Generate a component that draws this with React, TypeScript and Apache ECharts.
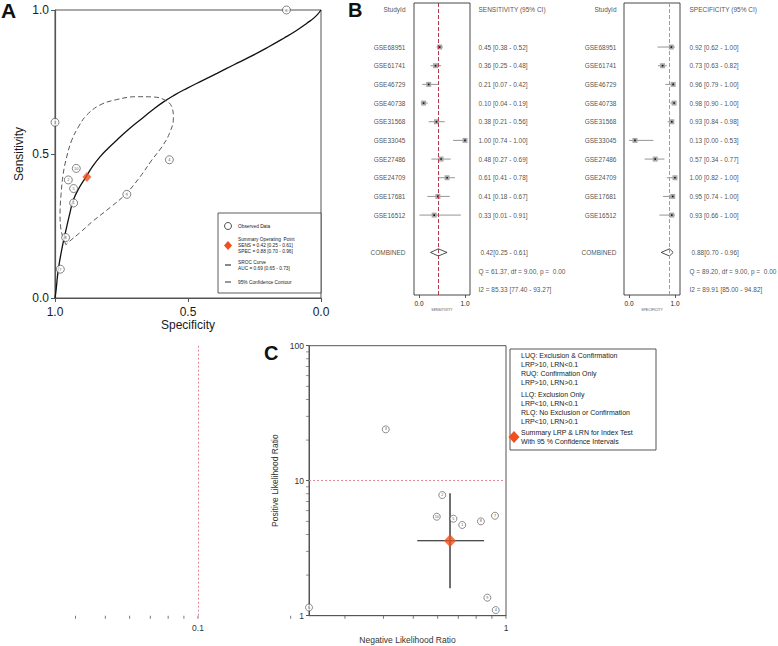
import React, { useEffect, useRef } from "react";
import * as echarts from "echarts";

// ---------------- data ----------------
const studies = ["GSE68951", "GSE61741", "GSE46729", "GSE40738", "GSE31568", "GSE33045", "GSE27486", "GSE24709", "GSE17681", "GSE16512"];
const sens = [0.45, 0.36, 0.21, 0.1, 0.38, 1.0, 0.48, 0.61, 0.41, 0.33];
const sensLo = [0.38, 0.25, 0.07, 0.04, 0.21, 0.74, 0.27, 0.41, 0.18, 0.01];
const sensHi = [0.52, 0.48, 0.42, 0.19, 0.56, 1.0, 0.69, 0.78, 0.67, 0.91];
const spec = [0.92, 0.73, 0.96, 0.98, 0.93, 0.13, 0.57, 1.0, 0.95, 0.93];
const specLo = [0.62, 0.63, 0.79, 0.9, 0.84, 0.0, 0.34, 0.82, 0.74, 0.66];
const specHi = [1.0, 0.82, 1.0, 1.0, 0.98, 0.53, 0.77, 1.0, 1.0, 1.0];
const plotLabels = ["10", "9", "8", "7", "5", "6", "4", "3", "2", "1"];

const summarySens = [0.42, 0.25, 0.61];
const summarySpec = [0.88, 0.7, 0.96];
const aucVals = [0.69, 0.65, 0.73];
const sensQ = [61.37, 9.0, 0.0];
const sensI2 = [85.33, 77.4, 93.27];
const specQ = [89.2, 9.0, 0.0];
const specI2 = [89.91, 85.0, 94.82];

// SROC curve (specificity, sensitivity)
const srocSpec = [1.0, 0.995, 0.991, 0.984, 0.975, 0.966, 0.956, 0.944, 0.931, 0.91, 0.885, 0.86, 0.831, 0.8, 0.768, 0.725, 0.68, 0.636, 0.592, 0.548, 0.504, 0.448, 0.391, 0.329, 0.266, 0.203, 0.14, 0.095, 0.053, 0.021, 0.0];
const srocSens = [0.0, 0.035, 0.073, 0.12, 0.166, 0.207, 0.247, 0.295, 0.34, 0.381, 0.418, 0.455, 0.49, 0.52, 0.548, 0.584, 0.618, 0.651, 0.681, 0.706, 0.728, 0.754, 0.78, 0.809, 0.838, 0.869, 0.902, 0.927, 0.954, 0.977, 1.0];

// 95% confidence contour (specificity, sensitivity)
const contourSpec = [0.959, 0.977, 0.981, 0.977, 0.969, 0.956, 0.937, 0.912, 0.881, 0.831, 0.768, 0.693, 0.63, 0.586, 0.561, 0.555, 0.57, 0.598, 0.636, 0.68, 0.735, 0.793, 0.856, 0.906, 0.944, 0.959];
const contourSens = [0.185, 0.235, 0.293, 0.363, 0.432, 0.49, 0.548, 0.594, 0.635, 0.67, 0.689, 0.699, 0.698, 0.687, 0.664, 0.623, 0.571, 0.525, 0.479, 0.421, 0.36, 0.314, 0.268, 0.227, 0.198, 0.185];

// Likelihood ratio scattergram
const lrn = [0.596, 0.87, 0.829, 0.921, 0.675, 0.0, 0.926, 0.407, 0.621, 0.721];
const lrp = [5.41, 1.36, 5.0, 5.5, 5.23, 1.15, 1.1, 24.0, 7.83, 4.7];
const summaryLRN = [0.658, 0.515, 0.849];
const summaryLRP = [3.59, 1.6, 8.07];
const lrpTicksMinor = [2, 3, 4, 5, 6, 7, 8, 9, 20, 30, 40, 50, 60, 70, 80, 90];
const lrnTicks = [0.04, 0.05, 0.06, 0.07, 0.08, 0.09, 0.1, 0.2, 0.3, 0.4, 0.5, 0.6, 0.7, 0.8, 0.9, 1];
const forestTicks = [0, 1];

const legendCLines = [
  "LUQ: Exclusion & Confirmation",
  "LRP>10, LRN<0.1",
  "RUQ: Confirmation Only",
  "LRP>10, LRN>0.1",
  "LLQ: Exclusion Only",
  "LRP<10, LRN<0.1",
  "RLQ: No Exclusion or Confirmation",
  "LRP<10, LRN>0.1",
  "Summary LRP & LRN for Index Test",
  "With 95 % Confidence Intervals",
];

// ---------------- layout ----------------
const FONT = '"Liberation Sans", Arial, Helvetica, sans-serif';
const ORANGE = "#f0501e";
const TXT = "#1a1a1a";
const F_MIN = -0.1087;
const F_MAX = 1.1087;
const ROW_MIN = -0.359;
const ROW_MAX = 15.28;
const FIRST_ROW = 2;
const COMB_ROW = 13;

const C_LEFT = 309;
const C_RIGHT = 506;
const C_TOP = 345.7;
const C_H = 270;
const DECADE = 308;
const C_MIN_LRN = Math.pow(10, -(C_RIGHT - C_LEFT) / DECADE);
const EXT_MIN = 0.04;
const EXT_LEFT = C_RIGHT - DECADE * Math.log10(1 / EXT_MIN);

const f2 = (v: number) => v.toFixed(2);

function forestSeries(
  gi: number,
  est: number[],
  lo: number[],
  hi: number[],
  comb: number[],
  header: string,
  q: number[],
  i2: number[],
  refColor: string,
  gapL: number,
  gapR: number,
  gapC: number
) {
  const labelBase = { show: true, fontSize: 6.5, color: TXT, fontFamily: FONT, textBorderWidth: 0 };
  const hidden = { color: "rgba(0,0,0,0)" };
  const leftTexts = [{ value: [F_MIN, 0], txt: "StudyId" }]
    .concat(studies.map((s, i) => ({ value: [F_MIN, FIRST_ROW + i], txt: s })))
    .concat([{ value: [F_MIN, COMB_ROW], txt: "COMBINED" }]);
  const rightTexts = [{ value: [F_MAX, 0], txt: header }]
    .concat(est.map((e, i) => ({ value: [F_MAX, FIRST_ROW + i], txt: `${f2(e)} [${f2(lo[i])} - ${f2(hi[i])}]` })))
    .concat([
      { value: [F_MAX, COMB_ROW + 1], txt: `Q = ${f2(q[0])}, df = ${f2(q[1])}, p =  ${f2(q[2])}` },
      { value: [F_MAX, COMB_ROW + 2], txt: `I2 = ${f2(i2[0])} [${f2(i2[1])} - ${f2(i2[2])}]` },
    ]);
  return [
    {
      type: "custom",
      xAxisIndex: gi,
      yAxisIndex: gi,
      clip: false,
      silent: true,
      z: 4,
      encode: { x: [0, 1, 2], y: 3 },
      data: est.map((e, i) => [e, lo[i], hi[i], FIRST_ROW + i]),
      renderItem: (params: any, api: any) => {
        const row = api.value(3);
        const p = api.coord([api.value(0), row]);
        const a = api.coord([api.value(1), row]);
        const b = api.coord([api.value(2), row]);
        return {
          type: "group",
          children: [
            { type: "line", shape: { x1: a[0], y1: a[1], x2: b[0], y2: b[1] }, style: { stroke: "#7a7a7a", lineWidth: 0.8 } },
            { type: "rect", shape: { x: p[0] - 2.5, y: p[1] - 2.5, width: 5, height: 5 }, style: { fill: "#a8a8a8" } },
            { type: "rect", shape: { x: p[0] - 0.8, y: p[1] - 0.8, width: 1.6, height: 1.6 }, style: { fill: "#111" } },
          ],
        };
      },
    },
    {
      type: "custom",
      xAxisIndex: gi,
      yAxisIndex: gi,
      clip: false,
      silent: true,
      z: 4,
      encode: { x: [0, 1, 2], y: 3 },
      data: [[comb[0], comb[1], comb[2], COMB_ROW]],
      renderItem: (params: any, api: any) => {
        const row = api.value(3);
        const c = api.coord([api.value(0), row]);
        const l = api.coord([api.value(1), row]);
        const r = api.coord([api.value(2), row]);
        return {
          type: "polygon",
          shape: { points: [[l[0], c[1]], [c[0], c[1] - 3.6], [r[0], c[1]], [c[0], c[1] + 3.6]] },
          style: { fill: "#fff", stroke: "#222", lineWidth: 0.8 },
        };
      },
    },
    {
      type: "scatter",
      xAxisIndex: gi,
      yAxisIndex: gi,
      clip: false,
      silent: true,
      symbolSize: 1,
      itemStyle: hidden,
      data: leftTexts,
      label: { ...labelBase, position: "left", distance: gapL, formatter: (p: any) => p.data.txt },
      markLine: {
        silent: true,
        symbol: "none",
        label: { show: false },
        lineStyle: { type: [4, 2], color: refColor, width: 1 },
        data: [{ xAxis: comb[0] }],
      },
    },
    {
      type: "scatter",
      xAxisIndex: gi,
      yAxisIndex: gi,
      clip: false,
      silent: true,
      symbolSize: 1,
      itemStyle: hidden,
      data: rightTexts,
      label: { ...labelBase, position: "right", distance: gapR, formatter: (p: any) => p.data.txt },
    },
    {
      type: "scatter",
      xAxisIndex: gi,
      yAxisIndex: gi,
      clip: false,
      silent: true,
      symbolSize: 1,
      itemStyle: hidden,
      data: [{ value: [F_MAX, COMB_ROW], txt: `${f2(comb[0])}[${f2(comb[1])} - ${f2(comb[2])}]` }],
      label: { ...labelBase, position: "right", distance: gapC, formatter: (p: any) => p.data.txt },
    },
  ];
}

function forestAxes(gi: number, name: string) {
  return {
    x: {
      gridIndex: gi,
      type: "value",
      min: F_MIN,
      max: F_MAX,
      splitLine: { show: false },
      axisLine: { show: false, onZero: false },
      axisTick: { show: true, length: 3, customValues: forestTicks, lineStyle: { color: "#333", width: 0.8 } },
      axisLabel: { show: true, customValues: forestTicks, formatter: (v: number) => v.toFixed(1), fontSize: 6.5, margin: 5, color: TXT, fontFamily: FONT },
      name,
      nameLocation: "middle",
      nameGap: 12,
      nameTextStyle: { fontSize: 3.5, color: "#555", fontFamily: FONT },
    },
    y: { gridIndex: gi, type: "value", inverse: true, min: ROW_MIN, max: ROW_MAX, show: false, axisLine: { onZero: false } },
  };
}

function buildOption() {
  const fa1 = forestAxes(1, "SENSITIVITY");
  const fa2 = forestAxes(2, "SPECIFICITY");
  const txt = (text: string, x: number, y: number, size: number, extra: any = {}) => ({
    type: "text",
    x,
    y,
    z: 20,
    silent: true,
    style: { text, fontSize: size, fontFamily: FONT, fill: TXT, verticalAlign: "middle", align: "left", ...extra },
  });
  const legendCY = [355, 364, 373, 382, 394, 403, 412, 421, 432, 441];

  const graphic: any[] = [
    txt("A", 1, 10, 21, { fontWeight: "bold", fill: "#111" }),
    txt("B", 348, 10, 20, { fontWeight: "bold", fill: "#111" }),
    txt("C", 264, 352.5, 20, { fontWeight: "bold", fill: "#111" }),
    // legend A
    { type: "rect", z: 19, silent: true, shape: { x: 218, y: 213, width: 103, height: 80 }, style: { fill: "#fff", stroke: "#333", lineWidth: 0.8 } },
    { type: "circle", z: 20, silent: true, shape: { cx: 228, cy: 226, r: 3.5 }, style: { fill: "#fff", stroke: "#222", lineWidth: 0.8 } },
    txt("Observed Data", 238, 226, 4.8),
    { type: "polygon", z: 20, silent: true, shape: { points: [[228, 241], [232, 245.5], [228, 250], [224, 245.5]] }, style: { fill: ORANGE } },
    txt("Summary Operating  Point", 238, 239.5, 4.8),
    txt(`SENS = ${f2(summarySens[0])} [${f2(summarySens[1])} - ${f2(summarySens[2])}]`, 238, 245.5, 4.8),
    txt(`SPEC = ${f2(summarySpec[0])} [${f2(summarySpec[1])} - ${f2(summarySpec[2])}]`, 238, 251.5, 4.8),
    { type: "line", z: 20, silent: true, shape: { x1: 225, y1: 265, x2: 231, y2: 265 }, style: { stroke: "#111", lineWidth: 1 } },
    txt("SROC Curve", 238, 262, 4.8),
    txt(`AUC = ${f2(aucVals[0])} [${f2(aucVals[1])} - ${f2(aucVals[2])}]`, 238, 268, 4.8),
    { type: "line", z: 20, silent: true, shape: { x1: 225, y1: 282, x2: 231, y2: 282 }, style: { stroke: "#333", lineWidth: 1 } },
    txt("95% Confidence Contour", 238, 282, 4.8),
    // legend C
    { type: "rect", z: 19, silent: true, shape: { x: 510, y: 349, width: 146, height: 101 }, style: { fill: "#fff", stroke: "#444", lineWidth: 0.9 } },
    ...legendCLines.map((l, i) => txt(l, 521, legendCY[i], 7)),
    { type: "polygon", z: 21, silent: true, shape: { points: [[514, 431], [519.5, 437], [514, 443], [508.5, 437]] }, style: { fill: ORANGE } },
  ];

  const series: any[] = [
    // ---- Panel A ----
    {
      type: "line",
      xAxisIndex: 0,
      yAxisIndex: 0,
      data: srocSpec.map((s, i) => [s, srocSens[i]]),
      smooth: 0.5,
      showSymbol: false,
      silent: true,
      lineStyle: { color: "#111", width: 1.3 },
      z: 2,
    },
    {
      type: "line",
      xAxisIndex: 0,
      yAxisIndex: 0,
      data: contourSpec.map((s, i) => [s, contourSens[i]]),
      smooth: 0.4,
      showSymbol: false,
      silent: true,
      lineStyle: { color: "#444", width: 0.9, type: [5, 3] },
      z: 2,
    },
    {
      type: "scatter",
      xAxisIndex: 0,
      yAxisIndex: 0,
      clip: false,
      silent: true,
      symbol: "circle",
      symbolSize: 8,
      itemStyle: { color: "#fff", borderColor: "#222", borderWidth: 0.7 },
      data: studies.map((s, i) => ({ value: [spec[i], sens[i]], lab: plotLabels[i] })),
      label: { show: true, position: "inside", formatter: (p: any) => p.data.lab, fontSize: 4, color: TXT, fontFamily: FONT },
      z: 3,
    },
    {
      type: "scatter",
      xAxisIndex: 0,
      yAxisIndex: 0,
      clip: false,
      silent: true,
      symbol: "diamond",
      symbolSize: [9, 10],
      itemStyle: { color: ORANGE },
      data: [[summarySpec[0], summarySens[0]]],
      z: 4,
    },
    // ---- Panel B ----
    ...forestSeries(1, sens, sensLo, sensHi, summarySens, "SENSITIVITY (95% CI)", sensQ, sensI2, "#b3394b", 8, 8, 10),
    ...forestSeries(2, spec, specLo, specHi, summarySpec, "SPECIFICITY (95% CI)", specQ, specI2, "#c98a96", 7, 9, 11),
    // ---- Panel C ----
    {
      type: "scatter",
      xAxisIndex: 3,
      yAxisIndex: 3,
      clip: false,
      silent: true,
      symbol: "circle",
      symbolSize: 7,
      itemStyle: { color: "#fff", borderColor: "#333", borderWidth: 0.7 },
      data: studies.map((s, i) => ({ value: [Math.max(lrn[i], C_MIN_LRN), lrp[i]], lab: plotLabels[i] })),
      label: { show: true, position: "inside", formatter: (p: any) => p.data.lab, fontSize: 3.8, color: TXT, fontFamily: FONT },
      markLine: {
        silent: true,
        symbol: "none",
        label: { show: false },
        lineStyle: { type: [2, 2], color: "#e48a96", width: 1 },
        data: [{ yAxis: 10 }],
      },
      z: 5,
    },
    {
      type: "line",
      xAxisIndex: 3,
      yAxisIndex: 3,
      silent: true,
      showSymbol: false,
      data: [[summaryLRN[1], summaryLRP[0]], [summaryLRN[2], summaryLRP[0]]],
      lineStyle: { color: "#111", width: 1.2 },
      z: 3,
    },
    {
      type: "line",
      xAxisIndex: 3,
      yAxisIndex: 3,
      silent: true,
      showSymbol: false,
      data: [[summaryLRN[0], summaryLRP[1]], [summaryLRN[0], summaryLRP[2]]],
      lineStyle: { color: "#111", width: 1.2 },
      z: 3,
    },
    {
      type: "scatter",
      xAxisIndex: 3,
      yAxisIndex: 3,
      silent: true,
      symbol: "diamond",
      symbolSize: [12, 13],
      itemStyle: { color: ORANGE },
      data: [[summaryLRN[0], summaryLRP[0]]],
      z: 6,
    },
    {
      type: "scatter",
      xAxisIndex: 3,
      yAxisIndex: 3,
      clip: false,
      silent: true,
      symbol: "rect",
      symbolSize: [3, 0.8],
      symbolOffset: [-1.5, 0],
      itemStyle: { color: "#555" },
      data: lrpTicksMinor.map((v) => [C_MIN_LRN, v]),
      z: 2,
    },
    {
      type: "scatter",
      xAxisIndex: 4,
      yAxisIndex: 4,
      clip: false,
      silent: true,
      symbol: "rect",
      symbolSize: [0.9, 3],
      symbolOffset: [0, 1.5],
      itemStyle: { color: "#444" },
      data: lrnTicks.map((v) => [v, 0]),
      markLine: {
        silent: true,
        symbol: "none",
        label: { show: false },
        lineStyle: { type: [2, 2], color: "#e48a96", width: 1 },
        data: [{ xAxis: 0.1 }],
      },
      z: 2,
    },
  ];

  return {
    animation: false,
    backgroundColor: "#fff",
    textStyle: { fontFamily: FONT },
    grid: [
      { left: 55, top: 10, width: 266, height: 288, show: true, borderColor: "#555", borderWidth: 1, backgroundColor: "transparent", containLabel: false, outerBoundsMode: "none" },
      { left: 414, top: 3, width: 56, height: 292, show: true, borderColor: "#333", borderWidth: 0.9, backgroundColor: "transparent", containLabel: false, outerBoundsMode: "none" },
      { left: 624, top: 3, width: 56, height: 292, show: true, borderColor: "#333", borderWidth: 0.9, backgroundColor: "transparent", containLabel: false, outerBoundsMode: "none" },
      { left: C_LEFT, top: C_TOP, width: C_RIGHT - C_LEFT, height: C_H, show: true, borderColor: "#555", borderWidth: 1, backgroundColor: "transparent", containLabel: false, outerBoundsMode: "none" },
      { left: EXT_LEFT, top: C_TOP, width: C_RIGHT - EXT_LEFT, height: C_H, show: false, containLabel: false, outerBoundsMode: "none" },
    ],
    xAxis: [
      {
        gridIndex: 0,
        type: "value",
        min: 0,
        max: 1,
        interval: 0.5,
        inverse: true,
        splitLine: { show: false },
        axisLine: { show: true, onZero: false, lineStyle: { color: "#555", width: 1.2 } },
        axisTick: { show: true, length: 4, lineStyle: { color: "#555" } },
        axisLabel: { formatter: (v: number) => v.toFixed(1), fontSize: 12, color: TXT, margin: 8, fontFamily: FONT },
        name: "Specificity",
        nameLocation: "middle",
        nameGap: 21,
        nameTextStyle: { fontSize: 12, color: TXT, fontFamily: FONT },
      },
      fa1.x,
      fa2.x,
      {
        gridIndex: 3,
        type: "log",
        logBase: 10,
        min: C_MIN_LRN,
        max: 1,
        splitLine: { show: false },
        axisLine: { show: true, onZero: false, lineStyle: { color: "#555", width: 1 } },
        axisTick: { show: false },
        axisLabel: { show: false },
        name: "Negative Likelihood Ratio",
        nameLocation: "middle",
        nameGap: 20,
        nameTextStyle: { fontSize: 8.5, color: "#333", fontFamily: FONT },
      },
      {
        gridIndex: 4,
        type: "log",
        logBase: 10,
        min: EXT_MIN,
        max: 1,
        splitLine: { show: false },
        axisLine: { show: false, onZero: false },
        axisTick: { show: false },
        axisLabel: {
          show: true,
          fontSize: 8.5,
          color: "#333",
          margin: 8,
          fontFamily: FONT,
          formatter: (v: number) => (Math.abs(v - 0.1) < 1e-6 ? "0.1" : Math.abs(v - 1) < 1e-6 ? "1" : ""),
        },
      },
    ],
    yAxis: [
      {
        gridIndex: 0,
        type: "value",
        min: 0,
        max: 1,
        interval: 0.5,
        splitLine: { show: false },
        axisLine: { show: true, onZero: false, lineStyle: { color: "#555", width: 1.2 } },
        axisTick: { show: true, length: 4, lineStyle: { color: "#555" } },
        axisLabel: { formatter: (v: number) => v.toFixed(1), fontSize: 12, color: TXT, margin: 6, fontFamily: FONT },
        name: "Sensitivity",
        nameLocation: "middle",
        nameGap: 30,
        nameTextStyle: { fontSize: 12, color: TXT, fontFamily: FONT },
      },
      fa1.y,
      fa2.y,
      {
        gridIndex: 3,
        type: "log",
        logBase: 10,
        min: 1,
        max: 100,
        splitLine: { show: false },
        axisLine: { show: true, onZero: false, lineStyle: { color: "#555", width: 1 } },
        axisTick: { show: true, length: 3, lineStyle: { color: "#555" } },
        axisLabel: { fontSize: 8.5, color: "#333", margin: 5, fontFamily: FONT },
        name: "Positive Likelihood Ratio",
        nameLocation: "middle",
        nameGap: 30,
        nameTextStyle: { fontSize: 8.5, color: "#333", fontFamily: FONT },
      },
      { gridIndex: 4, type: "value", min: 0, max: 1, show: false, axisLine: { onZero: false } },
    ],
    graphic,
    series,
  };
}

export default function App() {
  const ref = useRef<HTMLDivElement>(null);
  useEffect(() => {
    if (!ref.current) return;
    const chart = echarts.init(ref.current, null, { renderer: "svg" });
    chart.setOption(buildOption() as any);
    return () => chart.dispose();
  }, []);
  return (
    <div
      ref={ref}
      style={{ position: "fixed", left: 0, top: 0, width: 778, height: 646, background: "#fff" }}
    />
  );
}
